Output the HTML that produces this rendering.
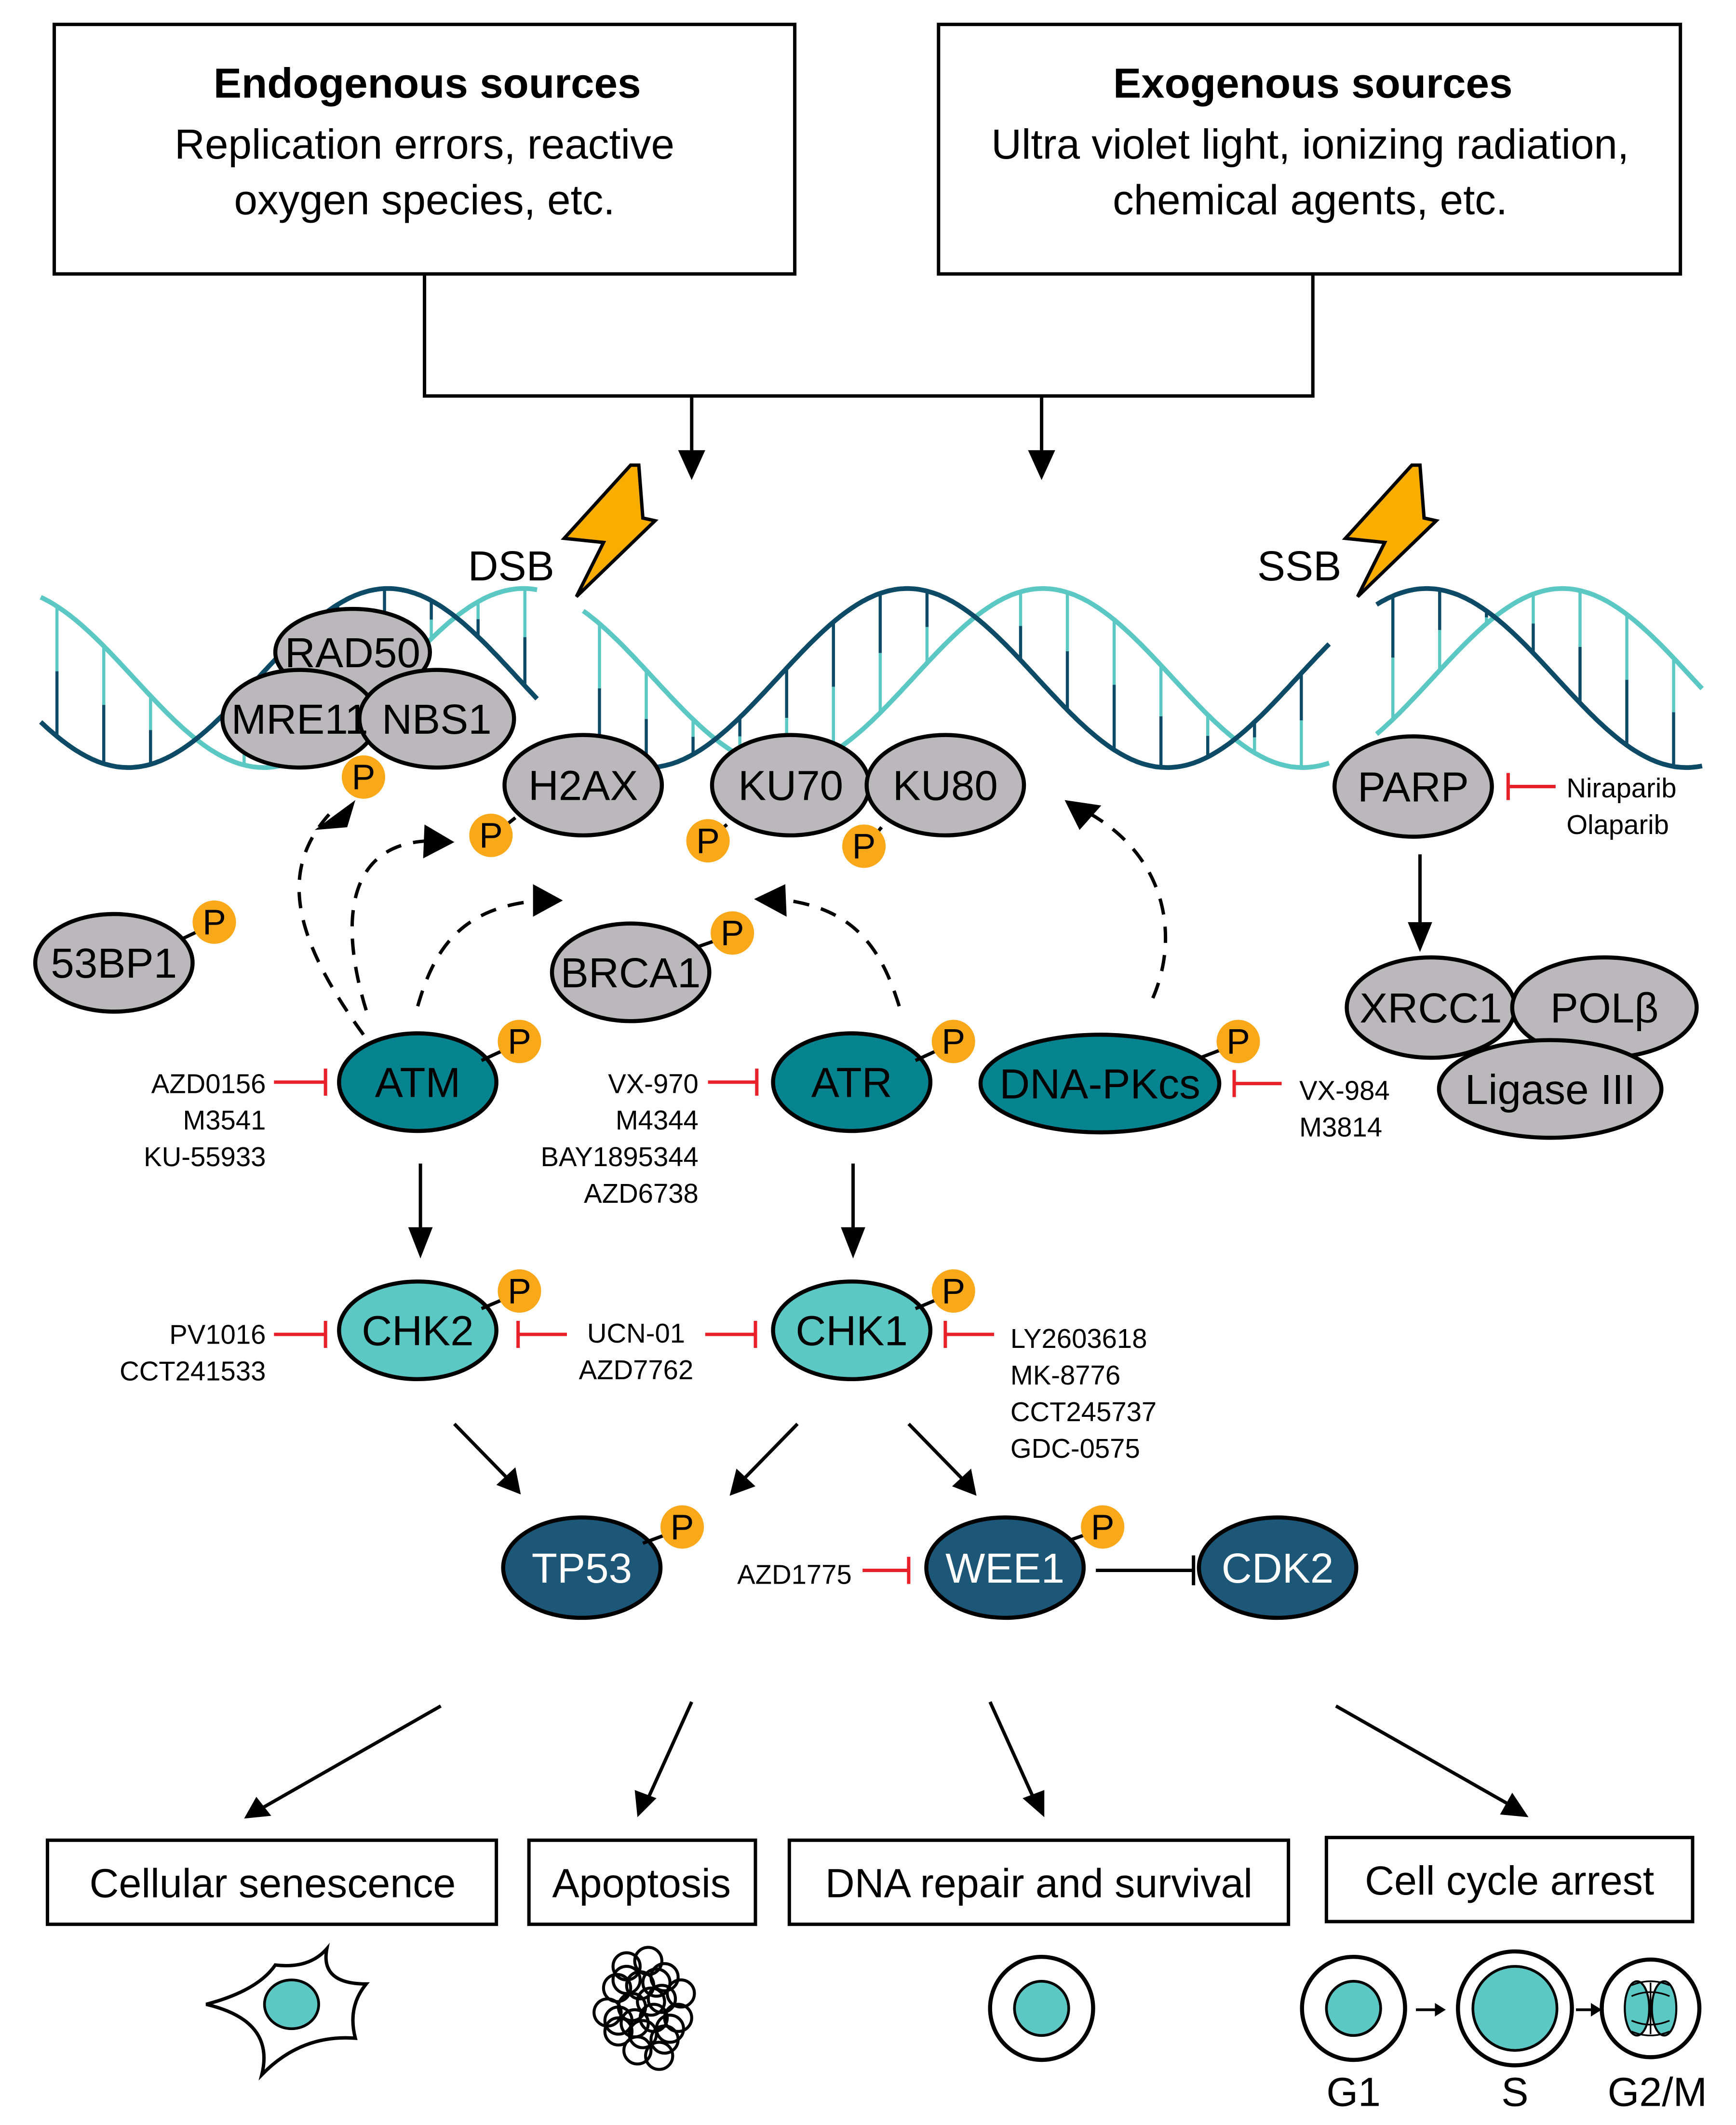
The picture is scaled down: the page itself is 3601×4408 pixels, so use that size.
<!DOCTYPE html>
<html><head><meta charset="utf-8">
<style>
html,body{margin:0;padding:0;background:#fff;}
svg{display:block;}
svg text{font-family:"Liberation Sans",Arial,sans-serif;}
</style></head>
<body>
<svg id="s" xmlns="http://www.w3.org/2000/svg" width="3601" height="4408" viewBox="0 0 1280 1567" preserveAspectRatio="none" font-family="Liberation Sans, Arial, sans-serif">
<rect width="1280" height="1567" fill="#fff"/>

<!-- top boxes -->
<rect x="40" y="18" width="546" height="184" fill="#fff" stroke="#000" stroke-width="2.5"/>
<rect x="692" y="18" width="547" height="184" fill="#fff" stroke="#000" stroke-width="2.5"/>
<g font-size="31" text-anchor="middle" fill="#000">
<text x="315" y="72" font-weight="bold">Endogenous sources</text>
<text x="313" y="117">Replication errors, reactive</text>
<text x="313" y="158">oxygen species, etc.</text>
<text x="968" y="72" font-weight="bold">Exogenous sources</text>
<text x="966" y="117">Ultra violet light, ionizing radiation,</text>
<text x="966" y="158">chemical agents, etc.</text>
</g>
<polyline points="313,202 313,292 968,292 968,202" fill="none" stroke="#000" stroke-width="2.5"/>
<line x1="510" y1="292" x2="510" y2="338" stroke="#000" stroke-width="2.5"/>
<polygon points="500,332 520,332 510,354" fill="#000"/>
<line x1="768" y1="292" x2="768" y2="338" stroke="#000" stroke-width="2.5"/>
<polygon points="758,332 778,332 768,354" fill="#000"/>

<!-- helix -->
<g id="helix"></g>

<!-- bolts -->
<polygon points="465,343 471,343 474,382 483,384 425,440 445,400 416,397" fill="#f9ad00" stroke="#000" stroke-width="2.5"/>
<polygon points="1041,343 1047,343 1050,382 1059,384 1001,440 1021,400 992,397" fill="#f9ad00" stroke="#000" stroke-width="2.5"/>
<text x="345" y="428" font-size="31">DSB</text>
<text x="927" y="428" font-size="31">SSB</text>

<!-- dashed curved arrows -->
<g fill="none" stroke="#000" stroke-width="2.5" stroke-dasharray="12,9">
<path d="M268,763 C215,690 205,640 245,598"/>
<path d="M270,745 C250,680 255,620 320,620"/>
<path d="M308,742 C320,700 340,668 400,664"/>
<path d="M663,742 C650,700 630,668 572,663"/>
<path d="M850,736 C870,690 860,630 800,598"/>
</g>
<g fill="#000">
<polygon points="232,612 262,590 256,610"/>
<polygon points="313,608 335,621 312,633"/>
<polygon points="393,652 415,664 393,676"/>
<polygon points="579,652 556,663 580,676"/>
<polygon points="785,590 812,594 796,612"/>
</g>

<!-- solid arrows -->
<g stroke="#000" stroke-width="2.5">
<line x1="310" y1="858" x2="310" y2="915"/>
<line x1="629" y1="858" x2="629" y2="915"/>
<line x1="335" y1="1050" x2="374" y2="1090"/>
<line x1="588" y1="1050" x2="549" y2="1090"/>
<line x1="670" y1="1050" x2="709" y2="1090"/>
<line x1="1047" y1="630" x2="1047" y2="690"/>
<line x1="325" y1="1258" x2="192" y2="1334"/>
<line x1="510" y1="1255" x2="477" y2="1328"/>
<line x1="730" y1="1255" x2="763" y2="1328"/>
<line x1="985" y1="1258" x2="1115" y2="1332"/>
</g>
<g fill="#000">
<polygon points="301,905 319,905 310,928"/>
<polygon points="620,905 638,905 629,928"/>
<polygon points="366,1095 380,1082 384,1102"/>
<polygon points="543,1083 557,1096 538,1103"/>
<polygon points="702,1096 716,1083 720,1103"/>
<polygon points="1038,680 1056,680 1047,702"/>
<polygon points="180,1341 189,1325 200,1339"/>
<polygon points="470,1340 468,1320 484,1326"/>
<polygon points="770,1340 754,1326 770,1320"/>
<polygon points="1127,1340 1106,1338 1115,1322"/>
</g>

<!-- proteins -->
<g stroke="#000" stroke-width="3">
<ellipse cx="260" cy="481" rx="57" ry="32" fill="#bbb8bc"/>
<ellipse cx="221" cy="530" rx="57" ry="36" fill="#bbb8bc"/>
<ellipse cx="322" cy="530" rx="57" ry="36" fill="#bbb8bc"/>
<ellipse cx="430" cy="579" rx="58" ry="37" fill="#bbb8bc"/>
<ellipse cx="583" cy="579" rx="58" ry="37" fill="#bbb8bc"/>
<ellipse cx="697" cy="579" rx="58" ry="37" fill="#bbb8bc"/>
<ellipse cx="1042" cy="580" rx="58" ry="37" fill="#bbb8bc"/>
<ellipse cx="84" cy="710" rx="58" ry="36" fill="#bbb8bc"/>
<ellipse cx="465" cy="717" rx="58" ry="36" fill="#bbb8bc"/>
<ellipse cx="1055" cy="743" rx="62" ry="37" fill="#bbb8bc"/>
<ellipse cx="1183" cy="743" rx="68" ry="37" fill="#bbb8bc"/>
<ellipse cx="1143" cy="803" rx="82" ry="36" fill="#bbb8bc"/>
<ellipse cx="308" cy="798" rx="58" ry="36" fill="#05838f"/>
<ellipse cx="628" cy="798" rx="58" ry="36" fill="#05838f"/>
<ellipse cx="811" cy="799" rx="88" ry="36" fill="#05838f"/>
<ellipse cx="308" cy="981" rx="58" ry="36" fill="#5cc8c4"/>
<ellipse cx="628" cy="981" rx="58" ry="36" fill="#5cc8c4"/>
<ellipse cx="429" cy="1156" rx="58" ry="37" fill="#1d5778"/>
<ellipse cx="741" cy="1156" rx="58" ry="37" fill="#1d5778"/>
<ellipse cx="942" cy="1156" rx="58" ry="37" fill="#1d5778"/>
</g>
<g font-size="31" text-anchor="middle" fill="#000">
<text x="260" y="492">RAD50</text>
<text x="221" y="541">MRE11</text>
<text x="322" y="541">NBS1</text>
<text x="430" y="590">H2AX</text>
<text x="583" y="590">KU70</text>
<text x="697" y="590">KU80</text>
<text x="1042" y="591">PARP</text>
<text x="84" y="721">53BP1</text>
<text x="465" y="728">BRCA1</text>
<text x="1055" y="754">XRCC1</text>
<text x="1183" y="754">POLβ</text>
<text x="1143" y="814">Ligase III</text>
<text x="308" y="809">ATM</text>
<text x="628" y="809">ATR</text>
<text x="811" y="810">DNA-PKcs</text>
<text x="308" y="992">CHK2</text>
<text x="628" y="992">CHK1</text>
<text x="429" y="1167" fill="#fff">TP53</text>
<text x="741" y="1167" fill="#fff">WEE1</text>
<text x="942" y="1167" fill="#fff">CDK2</text>
</g>

<!-- phospho -->
<g stroke="#000" stroke-width="2.5">
<line x1="262" y1="562" x2="268" y2="572"/>
<line x1="380" y1="603" x2="366" y2="614"/>
<line x1="536" y1="608" x2="524" y2="618"/>
<line x1="650" y1="610" x2="640" y2="622"/>
<line x1="135" y1="692" x2="156" y2="682"/>
<line x1="515" y1="698" x2="538" y2="690"/>
<line x1="355" y1="782" x2="381" y2="770"/>
<line x1="675" y1="782" x2="701" y2="770"/>
<line x1="885" y1="780" x2="911" y2="770"/>
<line x1="355" y1="965" x2="381" y2="954"/>
<line x1="675" y1="965" x2="701" y2="954"/>
<line x1="474" y1="1138" x2="501" y2="1128"/>
<line x1="788" y1="1136" x2="811" y2="1128"/>
</g>
<g fill="#f9a81a">
<circle cx="268" cy="573" r="16"/><circle cx="362" cy="616" r="16"/><circle cx="522" cy="620" r="16"/><circle cx="637" cy="624" r="16"/>
<circle cx="158" cy="680" r="16"/><circle cx="540" cy="688" r="16"/><circle cx="383" cy="768" r="16"/><circle cx="703" cy="768" r="16"/>
<circle cx="913" cy="768" r="16"/><circle cx="383" cy="952" r="16"/><circle cx="703" cy="952" r="16"/><circle cx="503" cy="1126" r="16"/><circle cx="813" cy="1126" r="16"/>
</g>
<g font-size="26" text-anchor="middle" fill="#000">
<text x="268" y="582">P</text><text x="362" y="625">P</text><text x="522" y="629">P</text><text x="637" y="633">P</text>
<text x="158" y="689">P</text><text x="540" y="697">P</text><text x="383" y="777">P</text><text x="703" y="777">P</text>
<text x="913" y="777">P</text><text x="383" y="961">P</text><text x="703" y="961">P</text><text x="503" y="1135">P</text><text x="813" y="1135">P</text>
</g>

<!-- inhibitors -->
<g stroke="#e8202a" stroke-width="2.5">
<line x1="1112" y1="580" x2="1147" y2="580"/><line x1="1112" y1="570" x2="1112" y2="590"/>
<line x1="202" y1="798" x2="240" y2="798"/><line x1="240" y1="788" x2="240" y2="808"/>
<line x1="522" y1="798" x2="558" y2="798"/><line x1="558" y1="788" x2="558" y2="808"/>
<line x1="910" y1="799" x2="945" y2="799"/><line x1="910" y1="789" x2="910" y2="809"/>
<line x1="202" y1="984" x2="240" y2="984"/><line x1="240" y1="974" x2="240" y2="994"/>
<line x1="382" y1="984" x2="418" y2="984"/><line x1="382" y1="974" x2="382" y2="994"/>
<line x1="520" y1="984" x2="557" y2="984"/><line x1="557" y1="974" x2="557" y2="994"/>
<line x1="697" y1="984" x2="733" y2="984"/><line x1="697" y1="974" x2="697" y2="994"/>
<line x1="636" y1="1158" x2="670" y2="1158"/><line x1="670" y1="1148" x2="670" y2="1168"/>
</g>
<line x1="808" y1="1158" x2="880" y2="1158" stroke="#000" stroke-width="2.5"/>
<line x1="880" y1="1147" x2="880" y2="1169" stroke="#000" stroke-width="2.5"/>

<g font-size="20" fill="#000">
<text x="1155" y="588">Niraparib</text><text x="1155" y="615">Olaparib</text>
<text x="958" y="811">VX-984</text><text x="958" y="838">M3814</text>
<text x="745" y="994">LY2603618</text><text x="745" y="1021">MK-8776</text><text x="745" y="1048">CCT245737</text><text x="745" y="1075">GDC-0575</text>
</g>
<g font-size="20" fill="#000" text-anchor="end">
<text x="196" y="806">AZD0156</text><text x="196" y="833">M3541</text><text x="196" y="860">KU-55933</text>
<text x="515" y="806">VX-970</text><text x="515" y="833">M4344</text><text x="515" y="860">BAY1895344</text><text x="515" y="887">AZD6738</text>
<text x="196" y="991">PV1016</text><text x="196" y="1018">CCT241533</text>
<text x="628" y="1168">AZD1775</text>
</g>
<g font-size="20" fill="#000" text-anchor="middle">
<text x="469" y="990">UCN-01</text><text x="469" y="1017">AZD7762</text>
</g>

<!-- bottom boxes -->
<g fill="#fff" stroke="#000" stroke-width="2.5">
<rect x="35" y="1357" width="331" height="62"/>
<rect x="390" y="1357" width="167" height="62"/>
<rect x="582" y="1357" width="368" height="62"/>
<rect x="978" y="1355" width="270" height="62"/>
</g>
<g font-size="30" text-anchor="middle" fill="#000">
<text x="201" y="1399">Cellular senescence</text>
<text x="473" y="1399">Apoptosis</text>
<text x="766" y="1399">DNA repair and survival</text>
<text x="1113" y="1397">Cell cycle arrest</text>
<text x="998" y="1553">G1</text>
<text x="1117" y="1553">S</text>
<text x="1222" y="1553">G2/M</text>
</g>

<!-- icons -->
<path d="M241,1437 Q236,1463 270,1463 Q256,1480 262,1503 Q222,1500 193,1530 Q203,1490 152,1478 Q190,1468 203,1449 Q228,1452 241,1437 Z" fill="#fff" stroke="#000" stroke-width="2.5"/>
<ellipse cx="215" cy="1478" rx="20" ry="18" fill="#5cc8c4" stroke="#000" stroke-width="2"/>
<g fill="none" stroke="#000" stroke-width="2.2" id="apop"></g>
<circle cx="768" cy="1481" r="38" fill="#fff" stroke="#000" stroke-width="3"/>
<circle cx="768" cy="1481" r="20" fill="#5cc8c4" stroke="#000" stroke-width="2"/>
<circle cx="998" cy="1481" r="38" fill="#fff" stroke="#000" stroke-width="3"/>
<circle cx="998" cy="1481" r="20" fill="#5cc8c4" stroke="#000" stroke-width="2"/>
<circle cx="1117" cy="1481" r="42" fill="#fff" stroke="#000" stroke-width="3"/>
<circle cx="1117" cy="1481" r="31" fill="#5cc8c4" stroke="#000" stroke-width="2"/>
<circle cx="1217" cy="1481" r="36" fill="#fff" stroke="#000" stroke-width="3"/>
<g stroke="#000" stroke-width="1.5" fill="#5cc8c4">
<ellipse cx="1207" cy="1481" rx="9" ry="20"/><ellipse cx="1227" cy="1481" rx="9" ry="20"/>
</g>
<g stroke="#000" stroke-width="1.2" fill="none">
<path d="M1203,1464 Q1217,1458 1231,1464"/><path d="M1203,1472 Q1217,1466 1231,1472"/>
<path d="M1203,1490 Q1217,1496 1231,1490"/><path d="M1203,1498 Q1217,1504 1231,1498"/>
<line x1="1217" y1="1462" x2="1217" y2="1500"/>
</g>
<line x1="1044" y1="1482" x2="1060" y2="1482" stroke="#000" stroke-width="2"/>
<polygon points="1058,1477 1066,1482 1058,1487" fill="#000"/>
<line x1="1162" y1="1482" x2="1175" y2="1482" stroke="#000" stroke-width="2"/>
<polygon points="1173,1477 1181,1482 1173,1487" fill="#000"/>
</svg>
<script>
(function(){
var NS="http://www.w3.org/2000/svg";
var g=document.getElementById("helix");
var P=383,A=66,C=500;
function dk(x){return C-A*Math.cos(2*Math.PI*(x-286)/P);}
function tl(x){return C-A*Math.cos(2*Math.PI*(x-386)/P);}
var segs=[[30,396],[430,980],[1015,1255]];
function mk(tag,attrs){var e=document.createElementNS(NS,tag);for(var k in attrs)e.setAttribute(k,attrs[k]);g.appendChild(e);return e;}
segs.forEach(function(s){
  for(var x=s[0]+12;x<s[1]-4;x+=34.5){
    var a=dk(x),b=tl(x),m=(a+b)/2;
    mk("line",{x1:x,y1:a,x2:x,y2:m,stroke:"#0d4a66","stroke-width":2.3});
    mk("line",{x1:x,y1:m,x2:x,y2:b,stroke:"#5cc8c4","stroke-width":2.3});
  }
  var d1="",d2="";
  for(var x=s[0];x<=s[1];x+=2){d1+=(x==s[0]?"M":"L")+x+","+dk(x).toFixed(1);d2+=(x==s[0]?"M":"L")+x+","+tl(x).toFixed(1);}
  mk("path",{d:d2,fill:"none",stroke:"#5cc8c4","stroke-width":3.5});
  mk("path",{d:d1,fill:"none",stroke:"#0d4a66","stroke-width":3.5});
});
var ap=document.getElementById("apop");
var pts=[[462,1450],[478,1446],[490,1458],[455,1466],[472,1464],[488,1474],[502,1470],[448,1484],[466,1480],[482,1488],[500,1488],[456,1498],[474,1500],[490,1504],[470,1512],[486,1516],[462,1460],[480,1476],[494,1496],[456,1490],[468,1492],[484,1462]];
pts.forEach(function(p){var c=document.createElementNS(NS,"circle");c.setAttribute("cx",p[0]);c.setAttribute("cy",p[1]);c.setAttribute("r",10);ap.appendChild(c);});
})();
</script>
</body></html>
